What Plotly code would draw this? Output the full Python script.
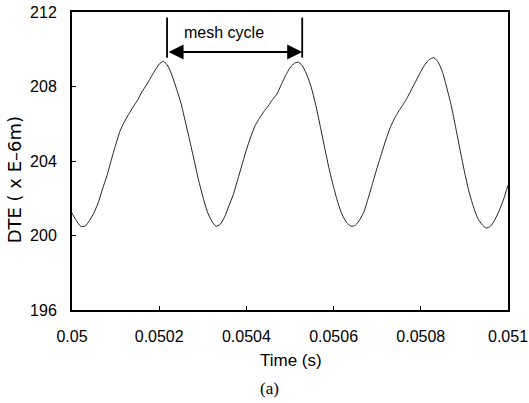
import plotly.graph_objects as go

# Dynamic transmission error sampled every 10 microseconds from 0.050 s to 0.051 s
time_us = [
    50000, 50010, 50020, 50030, 50040, 50050, 50060, 50070, 50080, 50090,
    50100, 50110, 50120, 50130, 50140, 50150, 50160, 50170, 50180, 50190,
    50200, 50210, 50220, 50230, 50240, 50250, 50260, 50270, 50280, 50290,
    50300, 50310, 50320, 50330, 50340, 50350, 50360, 50370, 50380, 50390,
    50400, 50410, 50420, 50430, 50440, 50450, 50460, 50470, 50480, 50490,
    50500, 50510, 50520, 50530, 50540, 50550, 50560, 50570, 50580, 50590,
    50600, 50610, 50620, 50630, 50640, 50650, 50660, 50670, 50680, 50690,
    50700, 50710, 50720, 50730, 50740, 50750, 50760, 50770, 50780, 50790,
    50800, 50810, 50820, 50830, 50840, 50850, 50860, 50870, 50880, 50890,
    50900, 50910, 50920, 50930, 50940, 50950, 50960, 50970, 50980, 50990,
    51000,
]
dte = [
    201.2, 200.8, 200.5, 200.5, 200.8, 201.2, 201.75, 202.5, 203.2, 204.05,
    204.85, 205.6, 206.1, 206.5, 206.9, 207.25, 207.7, 208.05, 208.45, 208.85,
    209.2, 209.35, 209.1, 208.55, 207.85, 207.1, 206.1, 205.1, 204.05, 203.0,
    202.1, 201.3, 200.8, 200.5, 200.6, 201.0, 201.6, 202.2, 203.0, 203.8,
    204.6, 205.3, 205.9, 206.3, 206.65, 206.95, 207.3, 207.6, 208.1, 208.6,
    209.0, 209.25, 209.3, 209.05, 208.55, 207.85, 206.9, 205.8, 204.65, 203.55,
    202.6, 201.75, 201.1, 200.7, 200.5, 200.55, 200.85, 201.3, 202.05, 202.85,
    203.65, 204.4, 205.15, 205.8, 206.3, 206.7, 207.05, 207.45, 207.9, 208.35,
    208.8, 209.2, 209.45, 209.55, 209.3, 208.75, 207.9, 206.95, 205.8, 204.6,
    203.45, 202.4, 201.6, 200.95, 200.6, 200.4, 200.5, 200.85, 201.35, 201.95,
    202.7,
]
time_s = [t * 1e-6 for t in time_us]

x_ticks = [0.05, 0.0502, 0.0504, 0.0506, 0.0508, 0.051]
x_tick_labels = ["0.05", "0.0502", "0.0504", "0.0506", "0.0508", "0.051"]
y_ticks = [196, 200, 204, 208, 212]

# Mesh-cycle marker: start/end times, label position and heights
cycle_start, cycle_end = 0.050218, 0.050528
label_x = 0.050349
marker_bottom, marker_top, arrow_y, label_y = 209.55, 211.7, 209.85, 210.9

sans = "Liberation Sans, Arial, sans-serif"
tick_font = dict(family=sans, size=16, color="black")

fig = go.Figure()
fig.add_trace(go.Scatter(
    x=time_s, y=dte, mode="lines",
    line=dict(color="#222222", width=1, shape="spline", smoothing=0.6),
    showlegend=False, hoverinfo="skip",
))

for xc in (cycle_start, cycle_end):
    fig.add_shape(type="line", xref="x", yref="y", x0=xc, x1=xc,
                  y0=marker_bottom, y1=marker_top,
                  line=dict(color="black", width=1.8))

fig.add_annotation(x=cycle_end, y=arrow_y, ax=cycle_start, ay=arrow_y,
                   xref="x", yref="y", axref="x", ayref="y", text="",
                   showarrow=True, arrowhead=2, startarrowhead=2,
                   arrowside="end+start", arrowsize=1.5, startarrowsize=1.5,
                   arrowwidth=2, arrowcolor="black")
fig.add_annotation(x=label_x, y=label_y, xref="x", yref="y",
                   text="mesh cycle", showarrow=False,
                   font=dict(family=sans, size=16, color="black"))

# Axis titles and panel label placed in paper coordinates
fig.add_annotation(x=0.502, y=-0.168, xref="paper", yref="paper", text="Time (s)",
                   showarrow=False, xanchor="center", yanchor="middle",
                   font=dict(family=sans, size=17, color="black"))
fig.add_annotation(x=-0.131, y=0.438, xref="paper", yref="paper", text="DTE ( x E–6m)",
                   showarrow=False, textangle=-90, xanchor="center", yanchor="middle",
                   font=dict(family="DejaVu Sans, sans-serif", size=18, color="black"))
fig.add_annotation(x=0.454, y=-0.262, xref="paper", yref="paper", text="(a)",
                   showarrow=False, xanchor="center", yanchor="middle",
                   font=dict(family="Liberation Serif, DejaVu Serif, serif", size=17, color="black"))

axis_common = dict(showline=True, linewidth=2, linecolor="black", mirror=True,
                   ticks="inside", ticklen=4, tickwidth=1, tickcolor="black",
                   showgrid=False, zeroline=False, tickfont=tick_font,
                   automargin=False)

fig.update_xaxes(range=[0.05, 0.051], tickvals=x_ticks, ticktext=x_tick_labels,
                 ticklabelstandoff=11, **axis_common)
fig.update_yaxes(range=[196, 212], tickvals=y_ticks,
                 ticklabelstandoff=10, **axis_common)

fig.update_layout(
    width=529, height=403,
    margin=dict(l=72, r=21, t=12, b=93),
    paper_bgcolor="white", plot_bgcolor="white",
)

fig.write_html("out.html")
